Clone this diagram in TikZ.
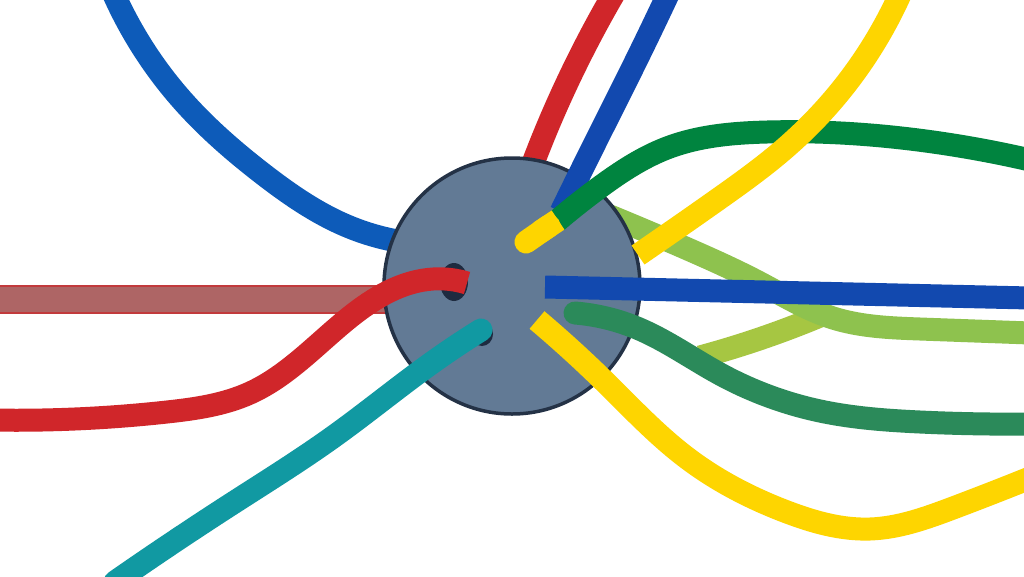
\documentclass[tikz,border=0pt]{standalone}
\usetikzlibrary{hobby}
\begin{document}
\begin{tikzpicture}[x=1pt,y=-1pt, use Hobby shortcut,
  strand/.style={line width=23pt, line cap=butt, line join=round},
  rstrand/.style={strand, line cap=round}]
\definecolor{cblueA}{HTML}{0D5BB9}
\definecolor{cblueB}{HTML}{1249AF}
\definecolor{cred}{HTML}{D0262A}
\definecolor{cbandedge}{HTML}{C23A3C}
\definecolor{cbandfill}{HTML}{AE6565}
\definecolor{cyellow}{HTML}{FED500}
\definecolor{cgreen}{HTML}{00843F}
\definecolor{cdgreen}{HTML}{2B8A5A}
\definecolor{clgreen}{HTML}{8EC24E}
\definecolor{clgreenb}{HTML}{A6C642}
\definecolor{cteal}{HTML}{1199A2}
\definecolor{cdisc}{HTML}{627A95}
\definecolor{cdiscedge}{HTML}{243246}
\definecolor{chole}{HTML}{1E2B40}
\useasboundingbox (0,0) rectangle (1024,576);
\fill[white] (0,0) rectangle (1024,576);
% faded red band
\draw[line width=29pt, cbandedge] (-5,299) -- (420,299);
\draw[line width=25pt, cbandfill] (-5,299) -- (420,299);
% blue top-left
\draw[strand, cblueA] (112,-10) .. (182,100) .. (263,174) .. (347,226) .. (420,244);
% red top
\draw[strand, cred] (616,-10) .. (567,83) .. (525,185);
% light green
\draw[strand, clgreenb] (700,357) .. (765,337) .. (820,316);
\draw[strand, clgreen] (600,212) .. (690,250) .. (760,283) .. (833,318) .. (920,329) .. (1030,333);
% disc
\draw[line width=3.5pt, cdiscedge, fill=cdisc] (512,286) circle (128);
\fill[chole] (454,282) ellipse (14 and 19);
\fill[chole] (482,334) ellipse (11 and 12);
% red lower
\draw[strand, cred] (-10,420) .. (167,412) .. (250,393) .. (350,317) .. (433,279) .. (467,283);
% teal
\draw[rstrand, cteal] (481,330) .. (433,362) .. (333,437) .. (233,503) .. (115,582);
% blue top right
\draw[strand, cblueB] (670,-10) .. (633,67) .. (600,133) .. (561,212);
% green upper
\draw[strand, cgreen] (557,221) .. (600,187) .. (667,148) .. (767,132) .. (933,142) .. (1030,160);
% yellow stub
\draw[strand, cyellow, line cap=round] (526,242) -- (549,226);
\draw[strand, cyellow] (540,232) -- (558,220);
% yellow upper
\draw[strand, cyellow] (902,-10) .. (833,100) .. (783,150) .. (717,200) .. (638,255);
% blue horizontal
\draw[strand, cblueB] (545,287) -- (1030,298);
% dark green lower
\draw[rstrand, cdgreen] (575,313) .. (637,328) .. (720,374) .. (820,411) .. (920,422) .. (1030,424);
% yellow lower
\draw[strand, cyellow] (537,320) .. (603,380) .. (687,458) .. (787,512) .. (870,529) .. (953,508) .. (1030,478);
\end{tikzpicture}
\end{document}
